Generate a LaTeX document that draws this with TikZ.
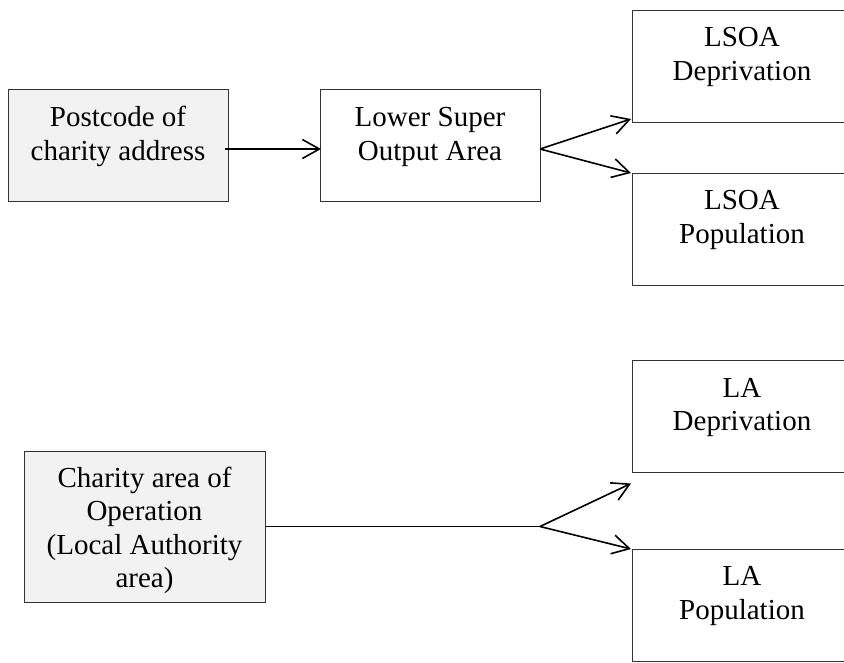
\documentclass[tikz,border=0pt]{standalone}
\usepackage{fontspec}
\setmainfont{Liberation Serif}
\usetikzlibrary{arrows.meta,calc,positioning}
\definecolor{boxgray}{HTML}{F2F2F2}
\definecolor{edge}{HTML}{333333}
\begin{document}
\begin{tikzpicture}[x=1pt,y=-1pt,
  box/.style={draw=edge, line width=0.8pt, minimum width=220pt, minimum height=112pt, inner sep=0pt, outer sep=0pt},
  txt/.style={inner sep=0pt, align=center, font=\fontsize{29}{33.5}\selectfont},
  arr/.style={line width=1.6pt, -{Straight Barb[length=17pt,width=19pt,line width=1.6pt]}},
  link/.style={line width=1.6pt}]
\useasboundingbox (0,0) rectangle (844,662);
\clip (0,0) rectangle (844,662);
% boxes
\node[box, fill=boxgray] (pcb) at (118,145) {};
\node[box] (lsb) at (430,145) {};
\node[box] (ldb) at (742,66) {};
\node[box] (lpb) at (742,229) {};
\node[box] (adb) at (742,416.5) {};
\node[box] (apb) at (742,605) {};
\node[box, fill=boxgray, minimum width=241pt, minimum height=151pt] (cab) at (144.5,526.5) {};
% texts
\node[txt, below=14pt of pcb.north] (pct) {\strut Postcode of\\charity address};
\node[txt, below=14pt of lsb.north] (lst) {\strut Lower Super\\Output Area};
\node[txt, below=13pt of ldb.north] (ldt) {\strut LSOA\\Deprivation};
\node[txt, below=13pt of lpb.north] (lpt) {\strut LSOA\\Population};
\node[txt, below=13pt of adb.north] (adt) {\strut LA\\Deprivation};
\node[txt, below=13pt of apb.north] (apt) {\strut LA\\Population};
\node[txt, below=12.5pt of cab.north] (cat) {\strut Charity area of\\Operation\\(Local Authority\\area)};
% connectors
\coordinate (a0) at ($(pcb.east)+(-3,4)$);
\coordinate (a1) at ($(lsb.west)+(1,4)$);
\draw[arr] (a0) -- (a1);
\coordinate (b1) at ($(lsb.east)+(0,4)$);
\coordinate (t1) at ($(ldb.south west)+(-1,-3)$);
\coordinate (t2) at ($(lpb.north west)+(-1,0)$);
\draw[arr] (b1) -- (t1);
\draw[arr] (b1) -- (t2);
\coordinate (b2) at (cab.east -| lsb.east);
\coordinate (t3) at ($(adb.south west)+(-1,11)$);
\coordinate (t4) at ($(apb.north west)+(-1,0)$);
\draw[link] (cab.east) -- (b2);
\draw[arr] (b2) -- (t3);
\draw[arr] (b2) -- (t4);
\end{tikzpicture}
\end{document}
